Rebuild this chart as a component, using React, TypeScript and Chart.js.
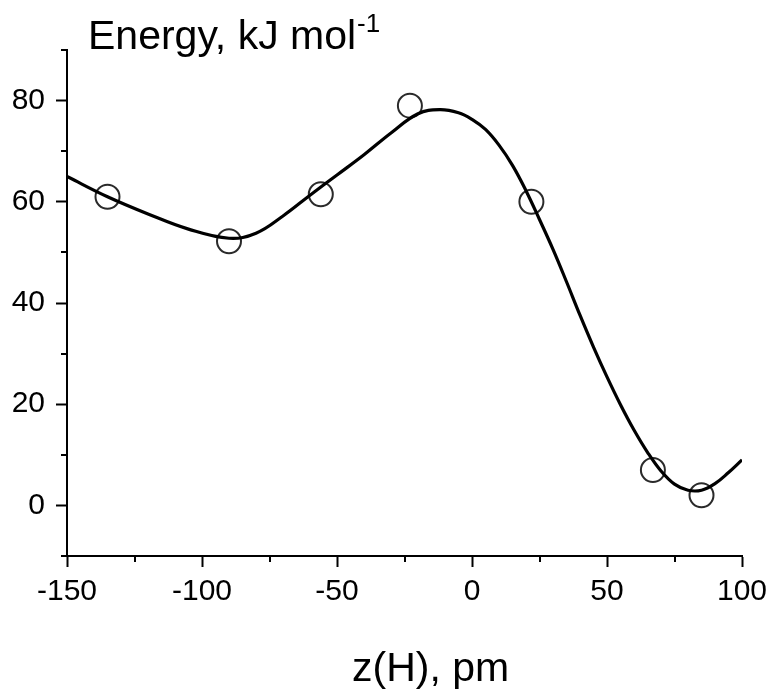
import React, { useEffect, useRef } from "react";
import { Chart, registerables } from "chart.js";

Chart.register(...registerables);

// ---- data ----
const pointX = [-135, -90, -56, -23, 22, 67, 85];
const pointY = [61, 52.2, 61.5, 79, 60, 7, 2];

const curveX = [-150, -135, -120, -105, -90, -80, -70, -60, -50, -40, -30, -20, -12, -5, 0, 5, 10, 15, 20, 25, 30, 35, 40, 45, 50, 55, 60, 65, 70, 75, 80, 85, 90, 95, 100];
const curveY = [65, 61, 57.6, 54.6, 52.8, 53.8, 57.2, 61.3, 65.3, 69.3, 73.6, 77.4, 78.2, 77.6, 76.3, 74.3, 71.2, 67.2, 62.2, 56.5, 50.6, 44.2, 37.6, 31.3, 25.4, 19.9, 14.9, 10.5, 6.8, 4.2, 3.0, 3.0, 4.3, 6.5, 9];

const xMajorTicks = [-150, -100, -50, 0, 50, 100];
const xMinorTicks = [-125, -75, -25, 25, 75];
const yMajorTicks = [0, 20, 40, 60, 80];
const yMinorTicks = [-10, 10, 30, 50, 70, 90];

const yTitle = "Energy, kJ mol";
const yTitleSup = "-1";
const xTitle = "z(H), pm";

const FONT = '"Liberation Sans", Arial, Helvetica, sans-serif';

export default function App() {
  const ref = useRef<HTMLCanvasElement | null>(null);

  useEffect(() => {
    if (!ref.current) return;

    const extras = {
      id: "extras",
      afterDraw(chart: any) {
        const ctx = chart.ctx;
        const xs = chart.scales.x;
        const ys = chart.scales.y;
        const area = chart.chartArea;
        ctx.save();
        ctx.strokeStyle = "#000";
        ctx.lineWidth = 2;
        ctx.beginPath();
        for (const v of yMinorTicks) {
          const py = Math.round(ys.getPixelForValue(v));
          ctx.moveTo(area.left - 6, py);
          ctx.lineTo(area.left, py);
        }
        for (const v of xMinorTicks) {
          const px = Math.round(xs.getPixelForValue(v));
          ctx.moveTo(px, area.bottom);
          ctx.lineTo(px, area.bottom + 6);
        }
        ctx.stroke();

        ctx.fillStyle = "#000";
        ctx.textBaseline = "alphabetic";
        ctx.textAlign = "left";
        ctx.font = `41px ${FONT}`;
        ctx.fillText(yTitle, 88, 49);
        const w = ctx.measureText(yTitle).width;
        ctx.font = `26px ${FONT}`;
        ctx.fillText(yTitleSup, 88 + w + 1, 32);

        ctx.font = `41px ${FONT}`;
        ctx.fillText(xTitle, 352, 681);
        ctx.restore();
      },
    };

    const chart = new Chart(ref.current, {
      type: "scatter",
      data: {
        datasets: [
          {
            label: "fit",
            data: curveX.map((x, i) => ({ x, y: curveY[i] })),
            showLine: true,
            borderColor: "#000",
            borderWidth: 3.2,
            pointRadius: 0,
            tension: 0.4,
            fill: false,
          },
          {
            label: "points",
            data: pointX.map((x, i) => ({ x, y: pointY[i] })),
            showLine: false,
            pointRadius: 12,
            pointStyle: "circle",
            backgroundColor: "rgba(0,0,0,0)",
            borderColor: "#2a2a2a",
            borderWidth: 2,
          },
        ],
      },
      options: {
        animation: false,
        responsive: false,
        layout: { padding: { top: 50, right: 29, left: 0, bottom: 0 } },
        plugins: { legend: { display: false }, tooltip: { enabled: false } },
        scales: {
          x: {
            type: "linear",
            min: -150,
            max: 100,
            afterBuildTicks: (s: any) => {
              s.ticks = xMajorTicks.map((v) => ({ value: v }));
            },
            afterFit: (s: any) => {
              s.height = 133;
              s.paddingLeft = 0;
              s.paddingRight = 0;
            },
            grid: { drawOnChartArea: false, tickLength: 11, tickWidth: 2, tickColor: "#000" },
            border: { color: "#000", width: 2 },
            ticks: {
              color: "#000",
              font: { family: FONT, size: 30 },
              padding: 7,
              maxRotation: 0,
              autoSkip: false,
            },
          },
          y: {
            type: "linear",
            min: -10,
            max: 90,
            afterBuildTicks: (s: any) => {
              s.ticks = yMajorTicks.map((v) => ({ value: v }));
            },
            afterFit: (s: any) => {
              s.width = 67;
              s.paddingTop = 0;
              s.paddingBottom = 0;
            },
            grid: { drawOnChartArea: false, tickLength: 11, tickWidth: 2, tickColor: "#000" },
            border: { color: "#000", width: 2 },
            ticks: {
              color: "#000",
              font: { family: FONT, size: 30 },
              padding: 11,
              autoSkip: false,
            },
          },
        },
      },
      plugins: [extras],
    });
    return () => chart.destroy();
  }, []);

  return (
    <div style={{ position: "fixed", left: 0, top: 0, width: 771, height: 689, background: "#fff" }}>
      <canvas ref={ref} width={771} height={689} style={{ display: "block" }} />
    </div>
  );
}
